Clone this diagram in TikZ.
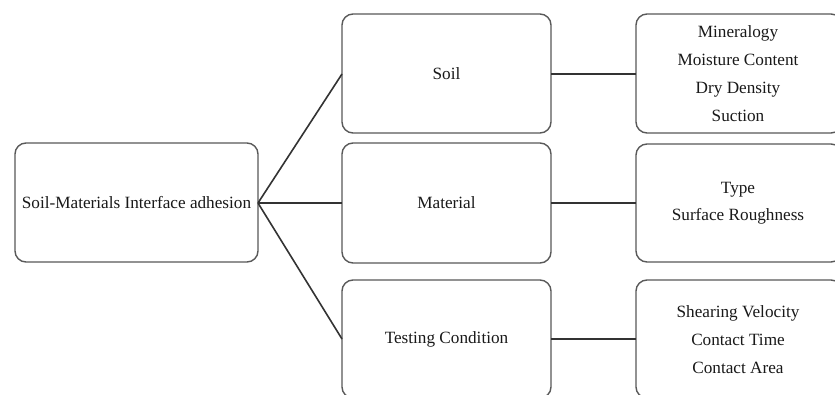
\documentclass[tikz,border=0pt]{standalone}
\usepackage{fontspec}
\setmainfont{Liberation Serif}
\begin{document}
\begin{tikzpicture}[x=1pt,y=-1pt,
  box/.style={draw=black!65,line width=1.4pt,rounded corners=11pt,fill=white,inner sep=0pt},
  lbl/.style={font=\fontsize{17.2}{28}\selectfont,align=center,text=black!90},
  conn/.style={draw=black!80,line width=1.6pt}]
\useasboundingbox (0,0) rectangle (835,394);
\clip (0,0) rectangle (835,394);
\fill[white] (0,0) rectangle (835,394);
% boxes
\draw[box] (15,143) rectangle (258,262);
\coordinate (rootE) at (258,203);
\node[lbl] (root) at (136.5,203) {Soil-Materials Interface adhesion};

\draw[box] (342,14) rectangle (551,133);
\coordinate (soilW) at (342,74);
\coordinate (soilE) at (551,74);
\node[lbl] (soil) at (446.5,73.5) {Soil};

\draw[box] (342,143) rectangle (551,263);
\coordinate (matW) at (342,203);
\coordinate (matE) at (551,203);
\node[lbl] (mat) at (446.5,203) {Material};

\draw[box] (342,280) rectangle (551,398);
\coordinate (testW) at (342,339);
\coordinate (testE) at (551,339);
\node[lbl] (test) at (446.5,339) {Testing Condition};

\draw[box] (636,14) rectangle (842,133);
\coordinate (r1W) at (636,74);
\node[lbl] (r1) at (738,74) {Mineralogy\\Moisture Content\\Dry Density\\Suction};

\draw[box] (636,144) rectangle (842,262);
\coordinate (r2W) at (636,203);
\node[lbl,font=\fontsize{17.2}{27}\selectfont] (r2) at (738,203) {Type\\Surface Roughness};

\draw[box] (636,280) rectangle (842,398);
\coordinate (r3W) at (636,339);
\node[lbl] (r3) at (738,339.5) {Shearing Velocity\\Contact Time\\Contact Area};

% connectors
\draw[conn] (rootE) -- (soilW);
\draw[conn] (rootE) -- (matW);
\draw[conn] (rootE) -- (testW);
\draw[conn] (soilE) -- (r1W);
\draw[conn] (matE) -- (r2W);
\draw[conn] (testE) -- (r3W);
\end{tikzpicture}
\end{document}
